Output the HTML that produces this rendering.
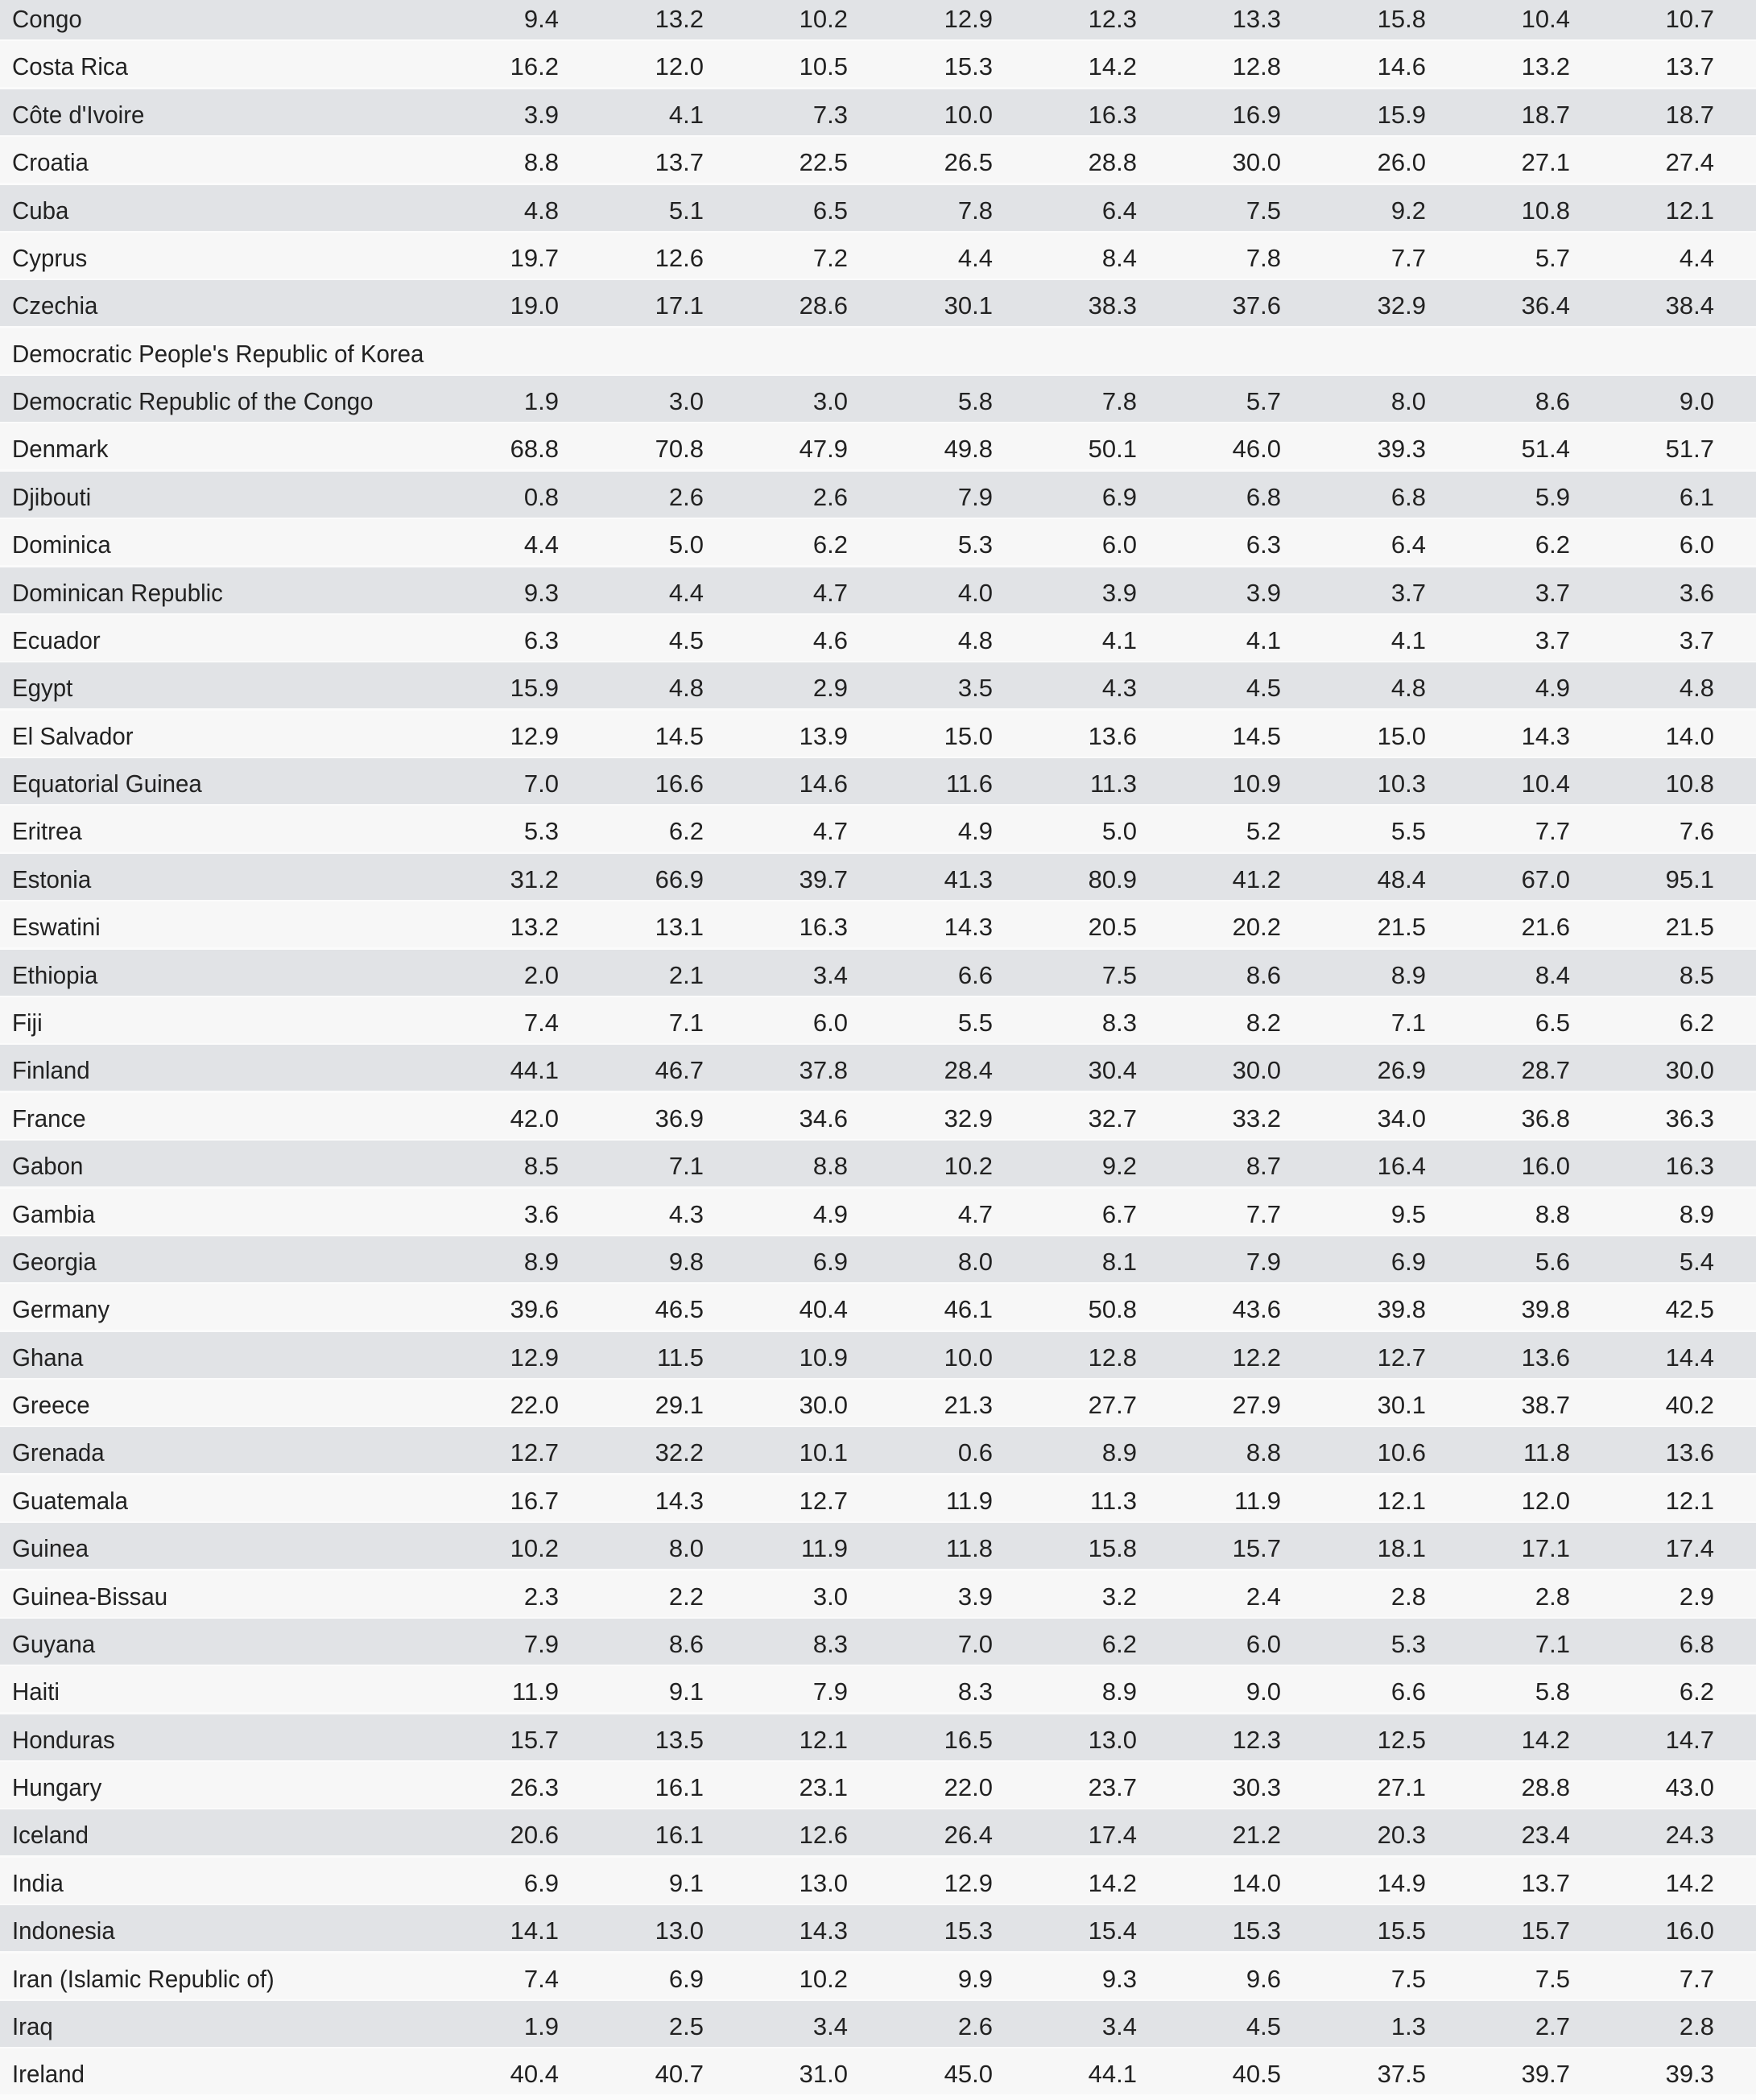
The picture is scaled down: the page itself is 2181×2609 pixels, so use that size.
<!DOCTYPE html>
<html><head><meta charset="utf-8"><style>
body{margin:0;width:2181px;height:2604px;overflow:hidden;background:#fbfbfb;font-family:"Liberation Sans",sans-serif;color:#222}
.r{position:absolute;left:0;width:2181px;height:57px}
.g{background:#e1e3e6}.w{background:#f7f7f7}
.r span{position:absolute;top:0;line-height:64px;font-size:31px;white-space:nowrap}
.l{left:15px;transform:scaleX(0.95);transform-origin:0 0}
.n{text-align:right;width:150px}
</style></head><body>
<div id="t"></div>
<script>
const d=`Congo|9.4|13.2|10.2|12.9|12.3|13.3|15.8|10.4|10.7
Costa Rica|16.2|12.0|10.5|15.3|14.2|12.8|14.6|13.2|13.7
Côte d'Ivoire|3.9|4.1|7.3|10.0|16.3|16.9|15.9|18.7|18.7
Croatia|8.8|13.7|22.5|26.5|28.8|30.0|26.0|27.1|27.4
Cuba|4.8|5.1|6.5|7.8|6.4|7.5|9.2|10.8|12.1
Cyprus|19.7|12.6|7.2|4.4|8.4|7.8|7.7|5.7|4.4
Czechia|19.0|17.1|28.6|30.1|38.3|37.6|32.9|36.4|38.4
Democratic People's Republic of Korea
Democratic Republic of the Congo|1.9|3.0|3.0|5.8|7.8|5.7|8.0|8.6|9.0
Denmark|68.8|70.8|47.9|49.8|50.1|46.0|39.3|51.4|51.7
Djibouti|0.8|2.6|2.6|7.9|6.9|6.8|6.8|5.9|6.1
Dominica|4.4|5.0|6.2|5.3|6.0|6.3|6.4|6.2|6.0
Dominican Republic|9.3|4.4|4.7|4.0|3.9|3.9|3.7|3.7|3.6
Ecuador|6.3|4.5|4.6|4.8|4.1|4.1|4.1|3.7|3.7
Egypt|15.9|4.8|2.9|3.5|4.3|4.5|4.8|4.9|4.8
El Salvador|12.9|14.5|13.9|15.0|13.6|14.5|15.0|14.3|14.0
Equatorial Guinea|7.0|16.6|14.6|11.6|11.3|10.9|10.3|10.4|10.8
Eritrea|5.3|6.2|4.7|4.9|5.0|5.2|5.5|7.7|7.6
Estonia|31.2|66.9|39.7|41.3|80.9|41.2|48.4|67.0|95.1
Eswatini|13.2|13.1|16.3|14.3|20.5|20.2|21.5|21.6|21.5
Ethiopia|2.0|2.1|3.4|6.6|7.5|8.6|8.9|8.4|8.5
Fiji|7.4|7.1|6.0|5.5|8.3|8.2|7.1|6.5|6.2
Finland|44.1|46.7|37.8|28.4|30.4|30.0|26.9|28.7|30.0
France|42.0|36.9|34.6|32.9|32.7|33.2|34.0|36.8|36.3
Gabon|8.5|7.1|8.8|10.2|9.2|8.7|16.4|16.0|16.3
Gambia|3.6|4.3|4.9|4.7|6.7|7.7|9.5|8.8|8.9
Georgia|8.9|9.8|6.9|8.0|8.1|7.9|6.9|5.6|5.4
Germany|39.6|46.5|40.4|46.1|50.8|43.6|39.8|39.8|42.5
Ghana|12.9|11.5|10.9|10.0|12.8|12.2|12.7|13.6|14.4
Greece|22.0|29.1|30.0|21.3|27.7|27.9|30.1|38.7|40.2
Grenada|12.7|32.2|10.1|0.6|8.9|8.8|10.6|11.8|13.6
Guatemala|16.7|14.3|12.7|11.9|11.3|11.9|12.1|12.0|12.1
Guinea|10.2|8.0|11.9|11.8|15.8|15.7|18.1|17.1|17.4
Guinea-Bissau|2.3|2.2|3.0|3.9|3.2|2.4|2.8|2.8|2.9
Guyana|7.9|8.6|8.3|7.0|6.2|6.0|5.3|7.1|6.8
Haiti|11.9|9.1|7.9|8.3|8.9|9.0|6.6|5.8|6.2
Honduras|15.7|13.5|12.1|16.5|13.0|12.3|12.5|14.2|14.7
Hungary|26.3|16.1|23.1|22.0|23.7|30.3|27.1|28.8|43.0
Iceland|20.6|16.1|12.6|26.4|17.4|21.2|20.3|23.4|24.3
India|6.9|9.1|13.0|12.9|14.2|14.0|14.9|13.7|14.2
Indonesia|14.1|13.0|14.3|15.3|15.4|15.3|15.5|15.7|16.0
Iran (Islamic Republic of)|7.4|6.9|10.2|9.9|9.3|9.6|7.5|7.5|7.7
Iraq|1.9|2.5|3.4|2.6|3.4|4.5|1.3|2.7|2.8
Ireland|40.4|40.7|31.0|45.0|44.1|40.5|37.5|39.7|39.3`.split("\n");
const R=[694,874,1053,1233,1412,1591,1771,1950,2129];
let h="";
d.forEach((line,i)=>{const p=line.split("|");const top=-8+i*59.38;
h+=`<div class="r ${i%2?'w':'g'}" style="top:${top}px"><span class="l">${p[0].replace(/'/g,"&#39;")}</span>`;
for(let j=1;j<p.length;j++)h+=`<span class="n" style="left:${R[j-1]-150}px">${p[j]}</span>`;
h+="</div>";});
document.getElementById("t").innerHTML=h;
</script>
</body></html>
